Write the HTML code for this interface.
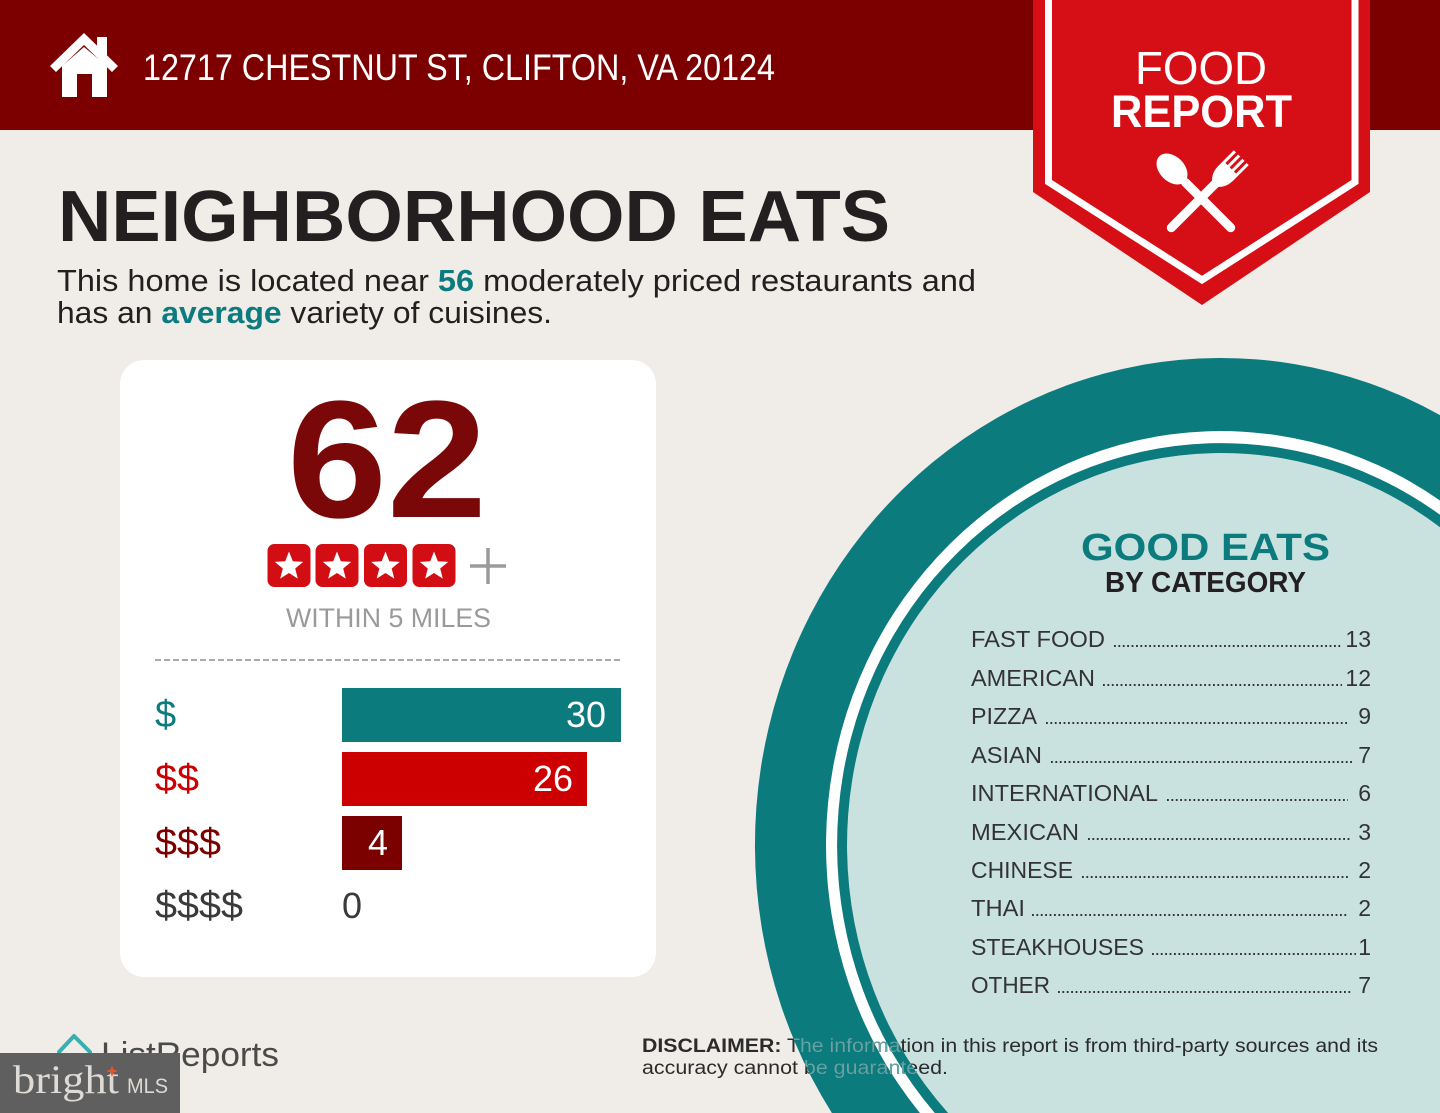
<!DOCTYPE html>
<html><head><meta charset="utf-8"><style>
html,body{margin:0;padding:0;background:#f0ece8;width:1440px;height:1113px;overflow:hidden;}
svg{display:block;position:absolute;left:0;top:0;}
text{font-family:"Liberation Sans",sans-serif;}
</style></head><body>
<svg width="1440" height="1113" viewBox="0 0 1440 1113" xmlns="http://www.w3.org/2000/svg">
<defs>
<clipPath id="band"><path fill-rule="evenodd" clip-rule="evenodd" d="M1440,415.1 A466,487 0 0,0 831.9,1113 L1440,1113 Z M1440,527.2 A374,392 0 0,0 948.1,1113 L1440,1113 Z"/></clipPath>
</defs>
<rect x="0" y="0" width="1440" height="1113" fill="#f0ece8"/>
<!-- header -->
<rect x="0" y="0" width="1440" height="130" fill="#7d0000"/>
<!-- house icon -->
<g fill="#ffffff">
<polygon points="50,66 84,33 118,66 112,72 84,45 56,72"/>
<rect x="97" y="37" width="10" height="18"/>
<path d="M62,66 L84,47 L107,66 L107,97 L92,97 L92,74 L77,74 L77,97 L62,97 Z"/>
</g>
<text x="143" y="80" font-size="37" fill="#ffffff" textLength="632" lengthAdjust="spacingAndGlyphs">12717 CHESTNUT ST, CLIFTON, VA 20124</text>
<!-- badge -->
<polygon points="1033,0 1370,0 1370,192 1202,305 1033,192" fill="#d50f15"/>
<polyline points="1048.5,0 1048.5,182 1202,280 1355,182 1355,0" fill="none" stroke="#ffffff" stroke-width="7"/>
<text x="1135" y="84" font-size="46" fill="#ffffff" textLength="132" lengthAdjust="spacingAndGlyphs">FOOD</text>
<text x="1111" y="127" font-size="45" font-weight="bold" fill="#ffffff" textLength="181" lengthAdjust="spacingAndGlyphs">REPORT</text>
<!-- spoon -->
<g transform="translate(1201,198) rotate(-45)" fill="#ffffff">
<line x1="0" y1="42" x2="0" y2="-22" stroke="#ffffff" stroke-width="9" stroke-linecap="round"/>
<ellipse cx="0" cy="-41" rx="12.5" ry="18"/>
</g>
<!-- fork -->
<g transform="translate(1201,198) rotate(45)" fill="#ffffff">
<line x1="0" y1="42" x2="0" y2="-22" stroke="#ffffff" stroke-width="9" stroke-linecap="round"/>
<path d="M-4.5,-20 C-10.5,-26 -10.5,-32 -10.5,-38 L-10.5,-57 L-7.5,-57 L-7.5,-42 L-4.5,-42 L-4.5,-57 L-1.5,-57 L-1.5,-42 L1.5,-42 L1.5,-57 L4.5,-57 L4.5,-42 L7.5,-42 L7.5,-57 L10.5,-57 L10.5,-38 C10.5,-32 10.5,-26 4.5,-20 Z"/>
</g>
<!-- title -->
<text x="58" y="241" font-size="72" font-weight="bold" fill="#231f20" textLength="832" lengthAdjust="spacingAndGlyphs">NEIGHBORHOOD EATS</text>
<text x="57" y="291" font-size="31" fill="#231f20" textLength="919" lengthAdjust="spacingAndGlyphs">This home is located near <tspan font-weight="bold" fill="#0c7b7e">56</tspan> moderately priced restaurants and</text>
<text x="57" y="323" font-size="31" fill="#231f20" textLength="495" lengthAdjust="spacingAndGlyphs">has an <tspan font-weight="bold" fill="#0c7b7e">average</tspan> variety of cuisines.</text>
<!-- circle (pre-clipped to the frame) -->
<path d="M1440,415.1 A466,487 0 0,0 831.9,1113 L1440,1113 Z" fill="#0c7b7e"/>
<path d="M1440,500.5 A395,414 0 0,0 919.9,1113 L1440,1113 Z" fill="#ffffff"/>
<path d="M1440,514.8 A384,402 0 0,0 934.8,1113 L1440,1113 Z" fill="#0c7b7e"/>
<path d="M1440,527.2 A374,392 0 0,0 948.1,1113 L1440,1113 Z" fill="#c9e2e0"/>
<text x="1081" y="560" font-size="38" font-weight="bold" fill="#0c7b7e" textLength="249" lengthAdjust="spacingAndGlyphs">GOOD EATS</text>
<text x="1105" y="592" font-size="29" font-weight="bold" fill="#231f20" textLength="201" lengthAdjust="spacingAndGlyphs">BY CATEGORY</text>
<g font-size="23" fill="#333333">
<text x="971" y="647" textLength="134" lengthAdjust="spacingAndGlyphs">FAST FOOD</text>
<text x="1371" y="647" text-anchor="end">13</text>
<text x="971" y="686" textLength="124" lengthAdjust="spacingAndGlyphs">AMERICAN</text>
<text x="1371" y="686" text-anchor="end">12</text>
<text x="971" y="724" textLength="66" lengthAdjust="spacingAndGlyphs">PIZZA</text>
<text x="1371" y="724" text-anchor="end">9</text>
<text x="971" y="763" textLength="71" lengthAdjust="spacingAndGlyphs">ASIAN</text>
<text x="1371" y="763" text-anchor="end">7</text>
<text x="971" y="801" textLength="187" lengthAdjust="spacingAndGlyphs">INTERNATIONAL</text>
<text x="1371" y="801" text-anchor="end">6</text>
<text x="971" y="840" textLength="108" lengthAdjust="spacingAndGlyphs">MEXICAN</text>
<text x="1371" y="840" text-anchor="end">3</text>
<text x="971" y="878" textLength="102" lengthAdjust="spacingAndGlyphs">CHINESE</text>
<text x="1371" y="878" text-anchor="end">2</text>
<text x="971" y="916" textLength="54" lengthAdjust="spacingAndGlyphs">THAI</text>
<text x="1371" y="916" text-anchor="end">2</text>
<text x="971" y="955" textLength="173" lengthAdjust="spacingAndGlyphs">STEAKHOUSES</text>
<text x="1371" y="955" text-anchor="end">1</text>
<text x="971" y="993" textLength="79" lengthAdjust="spacingAndGlyphs">OTHER</text>
<text x="1371" y="993" text-anchor="end">7</text>
</g>
<g stroke="#333333" stroke-width="2" stroke-dasharray="1.8 2.6">
<line x1="1114" y1="646" x2="1342" y2="646"/>
<line x1="1103" y1="685" x2="1342" y2="685"/>
<line x1="1046" y1="723" x2="1348" y2="723"/>
<line x1="1051" y1="762" x2="1352" y2="762"/>
<line x1="1167" y1="800" x2="1348" y2="800"/>
<line x1="1088" y1="839" x2="1351" y2="839"/>
<line x1="1082" y1="877" x2="1348" y2="877"/>
<line x1="1032" y1="915" x2="1348" y2="915"/>
<line x1="1152" y1="954" x2="1356" y2="954"/>
<line x1="1058" y1="992" x2="1352" y2="992"/>
</g>
<!-- card -->
<rect x="120" y="360" width="536" height="617" rx="24" ry="24" fill="#ffffff"/>
<text x="287" y="517" font-size="167" font-weight="bold" fill="#7a0808" textLength="200" lengthAdjust="spacingAndGlyphs">62</text>
<g>
<rect x="267.5" y="544" width="43" height="43" rx="7" fill="#d20d13"/>
<rect x="315.5" y="544" width="43" height="43" rx="7" fill="#d20d13"/>
<rect x="364" y="544" width="43" height="43" rx="7" fill="#d20d13"/>
<rect x="412.5" y="544" width="43" height="43" rx="7" fill="#d20d13"/>
<g fill="#ffffff">
<path transform="translate(289,566.5)" d="M0,-15 L3.82,-5.26 L14.27,-4.64 L6.18,2.01 L8.82,12.14 L0,6.5 L-8.82,12.14 L-6.18,2.01 L-14.27,-4.64 L-3.82,-5.26 Z"/>
<path transform="translate(337,566.5)" d="M0,-15 L3.82,-5.26 L14.27,-4.64 L6.18,2.01 L8.82,12.14 L0,6.5 L-8.82,12.14 L-6.18,2.01 L-14.27,-4.64 L-3.82,-5.26 Z"/>
<path transform="translate(385.5,566.5)" d="M0,-15 L3.82,-5.26 L14.27,-4.64 L6.18,2.01 L8.82,12.14 L0,6.5 L-8.82,12.14 L-6.18,2.01 L-14.27,-4.64 L-3.82,-5.26 Z"/>
<path transform="translate(434,566.5)" d="M0,-15 L3.82,-5.26 L14.27,-4.64 L6.18,2.01 L8.82,12.14 L0,6.5 L-8.82,12.14 L-6.18,2.01 L-14.27,-4.64 L-3.82,-5.26 Z"/>
</g>
<g stroke="#9b9b9b" stroke-width="3.5">
<line x1="470" y1="566" x2="506" y2="566"/>
<line x1="488" y1="548" x2="488" y2="584"/>
</g>
</g>
<text x="286" y="627" font-size="27" fill="#9a9a9a" textLength="205" lengthAdjust="spacingAndGlyphs">WITHIN 5 MILES</text>
<line x1="155" y1="660" x2="621" y2="660" stroke="#a9a9a9" stroke-width="2" stroke-dasharray="6 3"/>
<rect x="342" y="688" width="279" height="54" fill="#0c7b7e"/>
<rect x="342" y="752" width="245" height="54" fill="#cc0000"/>
<rect x="342" y="816" width="60" height="54" fill="#7b0000"/>
<g font-size="36">
<text x="606" y="727" fill="#ffffff" text-anchor="end">30</text>
<text x="573" y="791" fill="#ffffff" text-anchor="end">26</text>
<text x="368" y="855" fill="#ffffff">4</text>
<text x="342" y="918" fill="#3a3a3a">0</text>
</g>
<g font-size="38">
<text x="155" y="727" fill="#0c7b7e">$</text>
<text x="155" y="791" fill="#cc0000" textLength="44" lengthAdjust="spacingAndGlyphs">$$</text>
<text x="155" y="855" fill="#7b0000" textLength="66" lengthAdjust="spacingAndGlyphs">$$$</text>
<text x="155" y="918" fill="#3a3a3a" textLength="88" lengthAdjust="spacingAndGlyphs">$$$$</text>
</g>
<!-- disclaimer -->
<g font-size="19" fill="#2b2b2b">
<text x="642" y="1052" textLength="736" lengthAdjust="spacingAndGlyphs"><tspan font-weight="bold">DISCLAIMER:</tspan> The information in this report is from third-party sources and its</text>
<text x="642" y="1074" textLength="306" lengthAdjust="spacingAndGlyphs">accuracy cannot be guaranteed.</text>
</g>
<g font-size="19" fill="#62a6a8" clip-path="url(#band)">
<text x="642" y="1052" textLength="736" lengthAdjust="spacingAndGlyphs"><tspan font-weight="bold">DISCLAIMER:</tspan> The information in this report is from third-party sources and its</text>
<text x="642" y="1074" textLength="306" lengthAdjust="spacingAndGlyphs">accuracy cannot be guaranteed.</text>
</g>
<!-- ListReports -->
<path d="M59,1052 L74,1036 L90,1052 L90,1068 L59,1068 Z" fill="none" stroke="#3aaeb0" stroke-width="4" stroke-linejoin="round"/>
<text x="101" y="1066" font-size="34" fill="#4a4a4a" textLength="178" lengthAdjust="spacingAndGlyphs">ListReports</text>
<!-- bright MLS -->
<rect x="0" y="1053" width="180" height="60" fill="#5f5f5f"/>
<text x="13" y="1093" font-size="40" fill="#dedad6" textLength="106" lengthAdjust="spacingAndGlyphs" style="font-family:'Liberation Serif',serif">bright</text>
<path transform="translate(112,1071)" d="M0,-6 L1.5,-1.5 L6,0 L1.5,1.5 L0,6 L-1.5,1.5 L-6,0 L-1.5,-1.5 Z" fill="#e0572e"/>
<text x="127" y="1093" font-size="21" fill="#dedad6" textLength="41" lengthAdjust="spacingAndGlyphs">MLS</text>
</svg>
</body></html>
